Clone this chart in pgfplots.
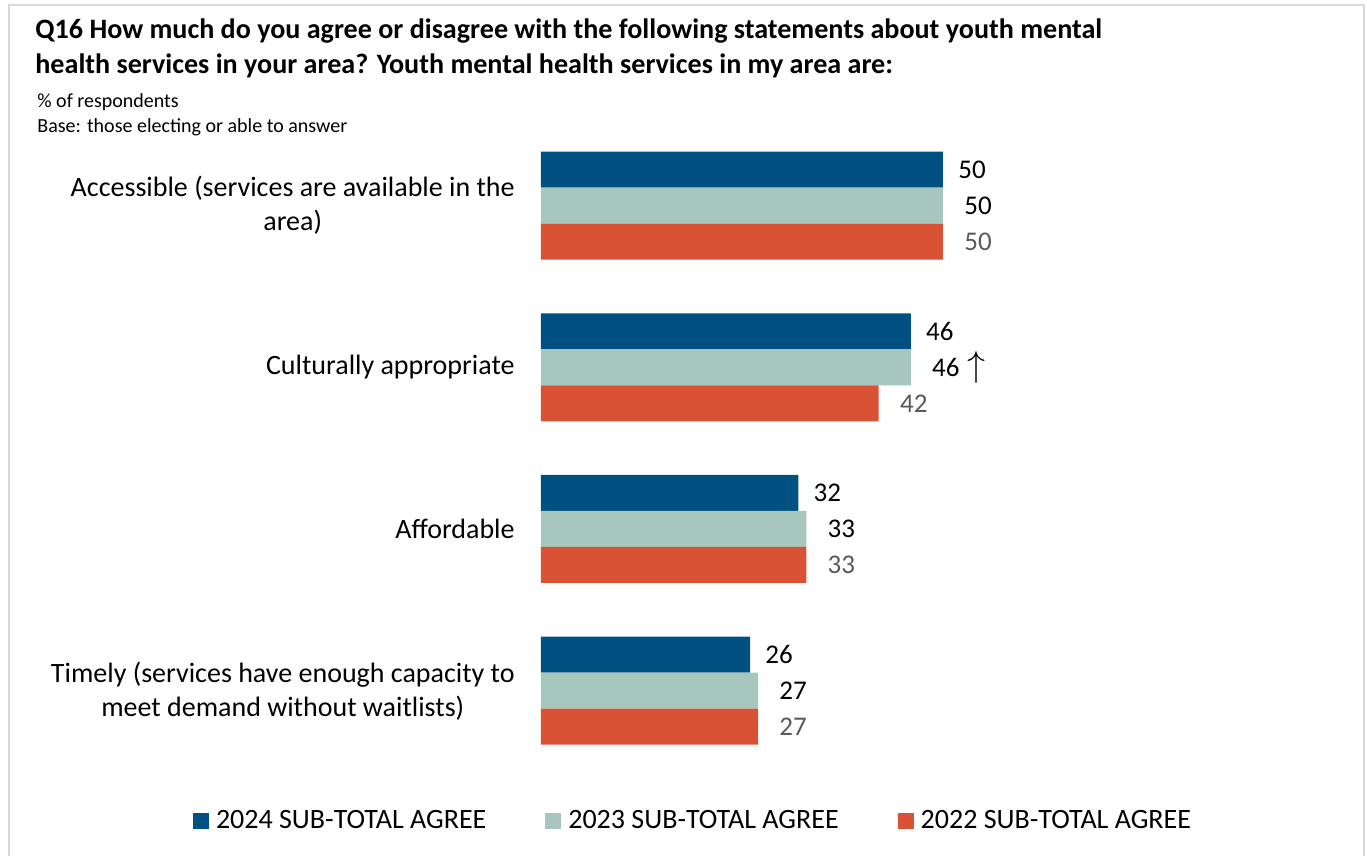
\documentclass[border=0pt]{standalone}
\usepackage{fontspec}
\setmainfont{Carlito}
\usepackage{pgfplots}
\pgfplotsset{compat=1.18}
\definecolor{c24}{RGB}{0,80,130}
\definecolor{c23}{RGB}{166,198,190}
\definecolor{c22}{RGB}{218,82,54}
\definecolor{lblgray}{RGB}{89,89,89}
\definecolor{frame}{RGB}{217,217,217}
\begin{document}
\begin{tikzpicture}
\path[use as bounding box] (0,0) rectangle (683.5pt,-428pt);
\draw[frame, line width=1pt] (4.5pt,-428pt) -- (4.5pt,-2.5pt) -- (682pt,-2.5pt) -- (682pt,-428pt);
\node[anchor=base west, inner sep=0pt, font=\fontsize{14.05}{17.5}\selectfont\bfseries] at (17.5pt,-19.5pt) {Q16 How much do you agree or disagree with the following statements about youth mental};
\node[anchor=base west, inner sep=0pt, font=\fontsize{14.05}{17.5}\selectfont\bfseries] at (17.5pt,-37pt) {health services in your area? Youth mental health services in my area are:};
\node[anchor=base west, inner sep=0pt, font=\fontsize{10}{12.5}\selectfont] at (18.5pt,-54pt) {\% of respondents};
\node[anchor=base west, inner sep=0pt, font=\fontsize{10}{12.5}\selectfont] at (18.5pt,-66.5pt) {Base: those electing or able to answer};
\begin{axis}[
  at={(270.5pt,-62.325pt)}, anchor=north west,
  scale only axis, width=402pt, height=323.475pt,
  xmin=0, xmax=100, ymin=-0.5, ymax=3.5,
  xbar, bar width=18pt,
  /pgf/number format/assume math mode=true,
  axis line style={draw=none},
  xtick=\empty,
  ytick={0,1,2,3},
  yticklabels={{Timely (services have enough capacity to\\meet demand without waitlists)},{Affordable},{Culturally appropriate},{Accessible (services are available in the\\area)}},
  ytick style={draw=none}, major tick length=0pt,
  yticklabel style={align=center, inner sep=0pt, xshift=-13pt, font=\fontsize{14}{17}\selectfont},
  legend columns=3,
  legend style={at={(-0.4328,-0.0764)}, anchor=west, draw=none, fill=none, inner sep=0pt, outer sep=0pt,
    font=\fontsize{14}{16}\selectfont,
    nodes={inner sep=0pt},
    /tikz/every odd column/.append style={column sep=3.5pt},
    /tikz/every even column/.append style={column sep=29.5pt}},
  legend cell align=left,
  legend image code/.code={\fill[#1] (0pt,-4pt) rectangle (8pt,4pt);},
  nodes near coords,
  every node near coord/.append style={font=\fontsize{13.5}{16}\selectfont, inner sep=0pt, anchor=west},
]
\addplot[draw=none, fill=c24, bar shift=18pt, every node near coord/.append style={xshift=7.5pt, text=black}]
  coordinates {(50,3) (46,2) (32,1) (26,0)};
\addplot[draw=none, fill=c23, bar shift=0pt, point meta=explicit symbolic, every node near coord/.append style={xshift=10.5pt, text=black}]
  coordinates {(50,3) [50] (46,2) [46\hspace{4pt}\scalebox{1.25}{$\uparrow$}] (33,1) [33] (27,0) [27]};
\addplot[draw=none, fill=c22, bar shift=-18pt, every node near coord/.append style={xshift=10.5pt, text=lblgray}]
  coordinates {(50,3) (42,2) (33,1) (27,0)};
\legend{2024 SUB-TOTAL AGREE, 2023 SUB-TOTAL AGREE, 2022 SUB-TOTAL AGREE}
\end{axis}
\end{tikzpicture}
\end{document}
